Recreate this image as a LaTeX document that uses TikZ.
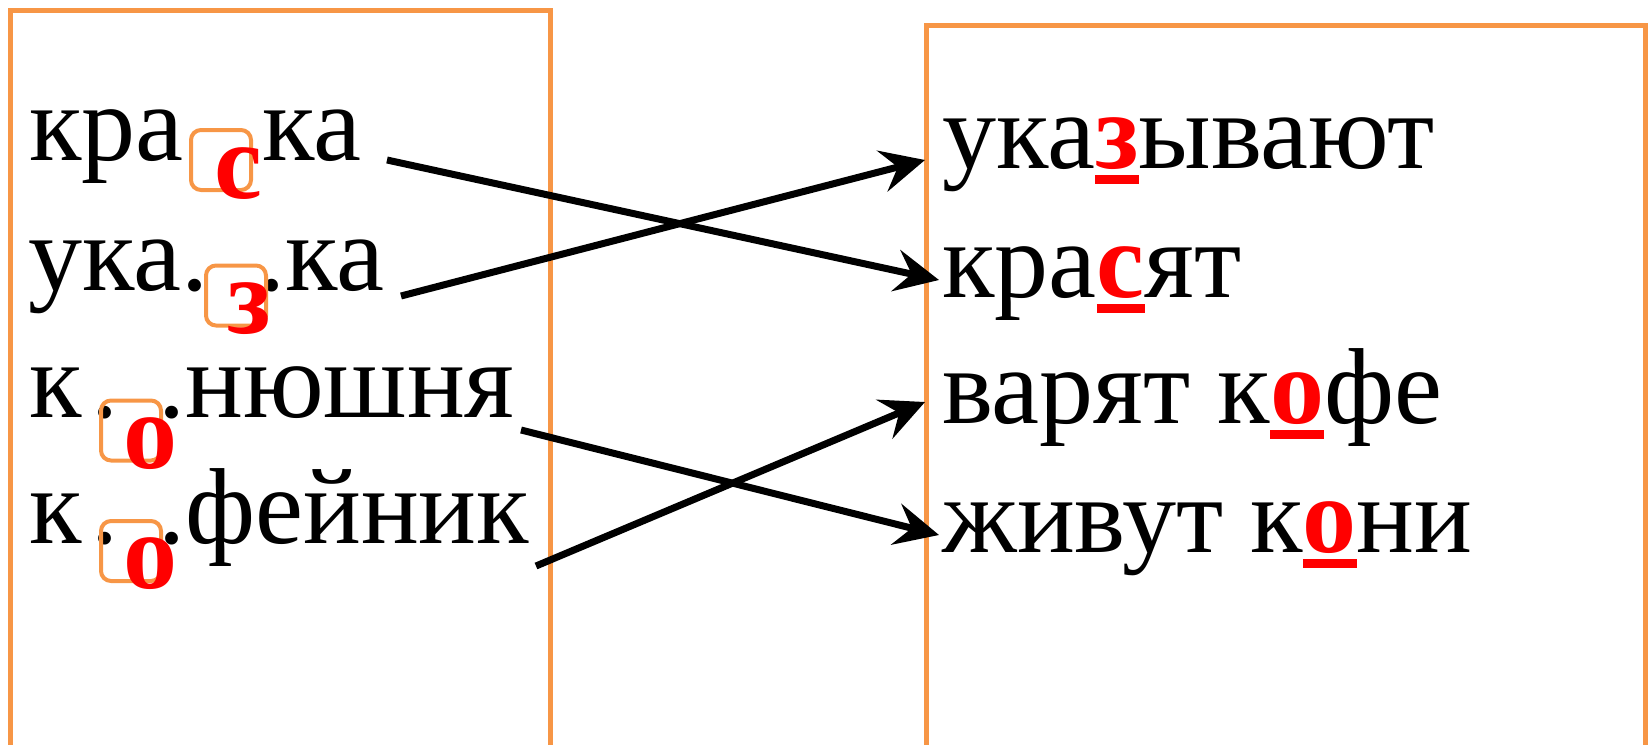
\documentclass[tikz,border=0pt]{standalone}
\usepackage{fontspec}
\setmainfont{Liberation Serif}
\usetikzlibrary{arrows.meta}
\definecolor{BoxOrange}{RGB}{247,150,70}
\definecolor{MarkRed}{RGB}{255,0,0}
% red bold letter with a thick bar under it
\newcommand{\redlet}[1]{\setbox0\hbox{\bfseries #1}%
  \textcolor{MarkRed}{\rlap{\rule[-0.145em]{\wd0}{0.08em}}\box0}}

\begin{document}
\begin{tikzpicture}[x=0.5pt,y=-0.5pt]
      \tikzstyle{word}=[inner sep=0, anchor=base west, font=\fontsize{54}{60}\selectfont];
      \tikzstyle{letter}=[word, text=MarkRed, font=\fontsize{54}{60}\selectfont\bfseries];
      \tikzstyle{slot}=[draw=BoxOrange, line width=2pt, rounded corners=5pt,
        minimum width=30pt, minimum height=30pt, inner sep=0];
      \tikzstyle{frame}=[draw=BoxOrange, line width=2.5pt];
      \tikzstyle{link}=[line width=3.5pt, -{Stealth[length=22pt, width=21pt, inset=8pt]}];

      \useasboundingbox (0,0) rectangle (1652,744);
      \clip (0,0) rectangle (1652,744);

      \draw[frame] (10.5,10.5) rectangle (550.5,780);
      \draw[frame] (926,25.5) rectangle (1645.5,780);

      % left column
      \node[word] (kra) at (29,160) {кра};
      \node[word] (kraEnd) at (262,160) {ка};
      \node[word] (uka) at (28,290) {ука.};
      \node[word] (ukaEnd) at (258,290) {.ка};
      \node[word] (kon) at (29,417) {к\kern5pt.};
      \node[word] (konEnd) at (158,417) {.нюшня};
      \node[word] (kof) at (29,543) {к\kern5pt.};
      \node[word] (kofEnd) at (158,543) {.фейник};

      \node[slot] (kraSlot) at (221,160) {};
      \node[slot] (ukaSlot) at (236,295.5) {};
      \node[slot] (konSlot) at (131,430.5) {};
      \node[slot] (kofSlot) at (131,551) {};

      \node[letter] (kraC) at (214,198) {с};
      \node[letter] (ukaZ) at (227,333) {з};
      \node[letter] (konO) at (123,468) {о};
      \node[letter] (kofO) at (123,588) {о};

      % right column
      \node[word] (ukazyvayut) at (942,168) {ука\redlet{з}ывают};
      \node[word] (krasyat) at (942,297) {кра\redlet{с}ят};
      \node[word] (kofe) at (942,423) {варят к\redlet{о}фе};
      \node[word] (koni) at (942,552) {живут к\redlet{о}ни};

      \coordinate (s1) at (387,160);
      \coordinate (s2) at (401,296);
      \coordinate (s3) at (521,430);
      \coordinate (s4) at (536,566);
      \coordinate (t1) at (939,280);
      \coordinate (t2) at (925,160);
      \coordinate (t3) at (939,535);
      \coordinate (t4) at (925,402);

      \draw[link] (s1) -- (t1);
      \draw[link] (s2) -- (t2);
      \draw[link] (s3) -- (t3);
      \draw[link] (s4) -- (t4);
\end{tikzpicture}
\end{document}
